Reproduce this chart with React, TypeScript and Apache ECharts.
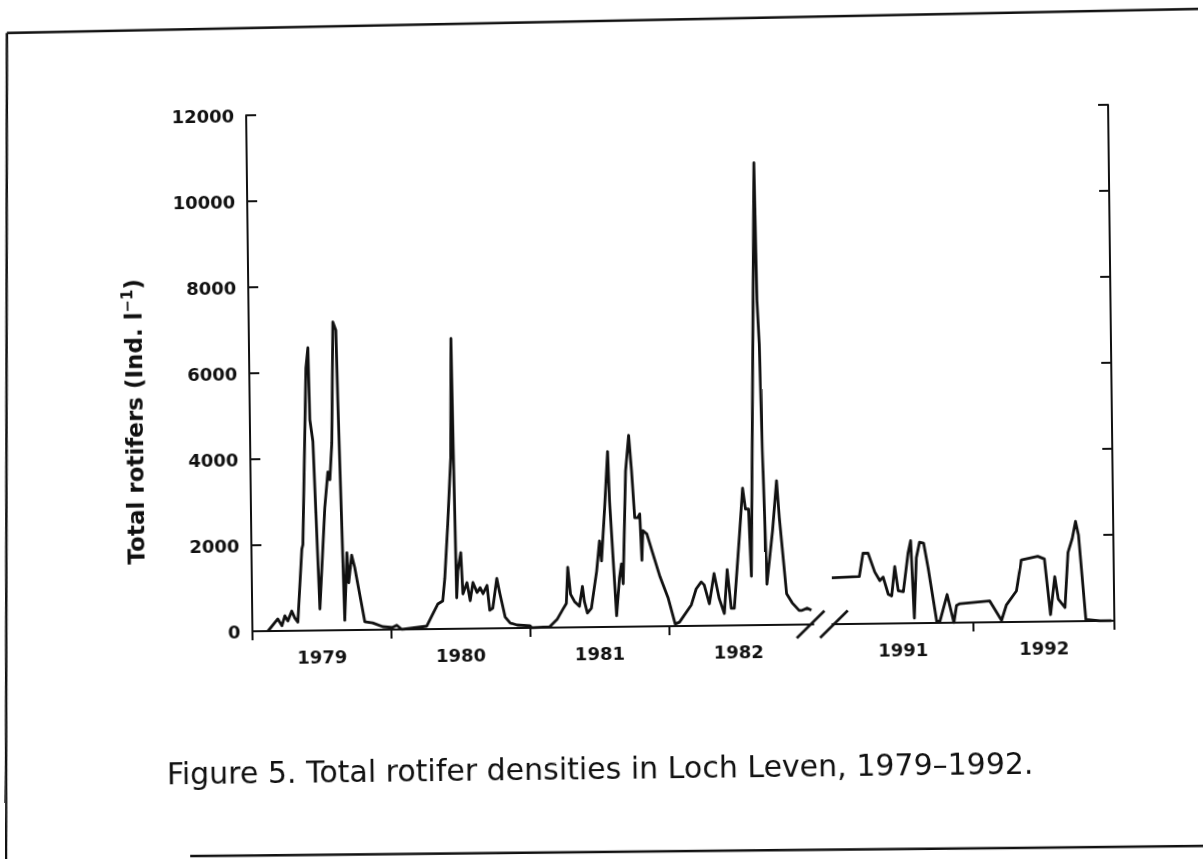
import React, { useEffect, useRef } from 'react';
import * as echarts from 'echarts';

// ---- data (year fraction, total rotifers Ind. l^-1) ----
const d1979: [number, number][] = [
  [1979.112, 0], [1979.184, 280], [1979.213, 120], [1979.235, 350], [1979.256, 230],
  [1979.285, 460], [1979.306, 300], [1979.328, 200], [1979.363, 1900], [1979.371, 2000],
  [1979.408, 6100], [1979.424, 6580], [1979.432, 4900], [1979.452, 4400], [1979.488, 500],
  [1979.532, 2860], [1979.557, 3680], [1979.571, 3500], [1979.588, 4350], [1979.606, 7170],
  [1979.627, 6980], [1979.635, 5350], [1979.666, 230], [1979.687, 1800], [1979.698, 1100],
  [1979.721, 1740], [1979.742, 1460], [1979.810, 190], [1979.867, 160], [1979.939, 70],
  [1980.010, 50],
];
const d1980: [number, number][] = [
  [1980.040, 100], [1980.076, 0], [1980.256, 70], [1980.292, 300], [1980.337, 580],
  [1980.373, 650], [1980.390, 1180], [1980.416, 2450], [1980.443, 3980], [1980.455, 6750],
  [1980.462, 4210], [1980.474, 720], [1980.484, 1350], [1980.507, 1770], [1980.519, 810],
  [1980.549, 1070], [1980.571, 650], [1980.592, 1070], [1980.621, 840], [1980.643, 950],
  [1980.664, 810], [1980.693, 1000], [1980.711, 420], [1980.733, 470], [1980.764, 1160],
  [1980.785, 810], [1980.821, 260], [1980.857, 120], [1980.907, 70], [1981.000, 50],
];
const d1981: [number, number][] = [
  [1981.011, 0], [1981.140, 20], [1981.197, 200], [1981.235, 410], [1981.263, 560],
  [1981.276, 1400], [1981.294, 770], [1981.322, 600], [1981.357, 490], [1981.380, 950],
  [1981.393, 600], [1981.414, 330], [1981.443, 440], [1981.484, 1300], [1981.507, 2000],
  [1981.520, 1540], [1981.547, 2770], [1981.573, 4080], [1981.583, 2930], [1981.624, 260],
  [1981.648, 1140], [1981.663, 1460], [1981.674, 1000], [1981.701, 3620], [1981.726, 4450],
  [1981.744, 3620], [1981.763, 2530], [1981.785, 2530], [1981.799, 2620], [1981.811, 1540],
  [1981.820, 2230], [1981.849, 2150], [1981.884, 1760], [1981.940, 1150], [1981.997, 650],
  [1982.045, 50],
];
const d1982: [number, number][] = [
  [1982.076, 90], [1982.163, 490], [1982.199, 860], [1982.236, 1020], [1982.257, 950],
  [1982.293, 510], [1982.329, 1210], [1982.364, 630], [1982.400, 280], [1982.424, 1300],
  [1982.450, 400], [1982.472, 400], [1982.516, 2120], [1982.542, 3190], [1982.561, 2700],
  [1982.583, 2700], [1982.598, 1140], [1982.652, 10750], [1982.662, 7540], [1982.675, 6540],
  [1982.688, 4050], [1982.709, 950], [1982.754, 2190], [1982.787, 3350], [1982.804, 2490],
  [1982.850, 720], [1982.889, 510], [1982.939, 330], [1982.960, 330], [1982.998, 380],
  [1983.027, 330],
];
const d1991: [number, number][] = [
  [1991.000, 1080], [1991.195, 1100], [1991.223, 1640], [1991.259, 1640], [1991.305, 1200],
  [1991.340, 1000], [1991.364, 1080], [1991.399, 680], [1991.423, 640], [1991.447, 1320],
  [1991.470, 760], [1991.506, 736], [1991.543, 1640], [1991.562, 1920], [1991.582, 120],
  [1991.601, 1520], [1991.625, 1880], [1991.654, 1856], [1991.684, 1280], [1991.740, 40],
  [1991.763, 40], [1991.816, 656], [1991.862, 0], [1991.882, 400], [1991.906, 440],
];
const d1992: [number, number][] = [
  [1992.118, 496], [1992.200, 40], [1992.236, 400], [1992.308, 720], [1992.345, 1440],
  [1992.462, 1520], [1992.509, 1456], [1992.548, 160], [1992.581, 1040], [1992.604, 520],
  [1992.651, 320], [1992.677, 1600], [1992.708, 1920], [1992.733, 2320], [1992.753, 2000],
  [1992.798, 40], [1992.898, 0], [1992.980, 0],
];

// ---- axes ----
const leftYears = [1979, 1980, 1981, 1982];
const rightYears = [1991, 1992];
const leftTicks = [1979, 1980, 1981, 1982];
const rightTicks = [1992, 1993];
const leftRange = [1979, 1983.04];
const rightRange = [1991, 1993];
const yRange = [0, 12000];
const yStep = 2000;
const breakMarks = [1983.02, 1991.011];

const INK = '#111';
const FONT = 'DejaVu Sans';

function slash(params: any, api: any) {
  const p = api.coord([api.value(0), api.value(1)]);
  return {
    type: 'line',
    shape: { x1: p[0] - 14, y1: p[1] + 13.5, x2: p[0] + 14, y2: p[1] - 13.5 },
    style: { stroke: INK, lineWidth: 2.6 },
  };
}

function xAxisCfg(gridIndex: number, range: number[], ticks: number[], years: number[]) {
  return {
    type: 'value',
    gridIndex,
    min: range[0],
    max: range[1],
    axisLine: { show: true, onZero: false, lineStyle: { color: INK, width: 2 } },
    axisTick: { show: true, inside: false, length: 9, customValues: ticks, lineStyle: { color: INK, width: 2 } },
    axisLabel: {
      show: true,
      customValues: years.map((y) => y + 0.5),
      formatter: (v: number) => String(Math.floor(v)),
      margin: 17,
      color: INK,
      fontFamily: FONT,
      fontWeight: 'bold',
      fontSize: 18,
    },
    splitLine: { show: false },
  };
}

function yAxisCfg(gridIndex: number, position: string, showLabel: boolean) {
  return {
    type: 'value',
    gridIndex,
    position,
    min: yRange[0],
    max: yRange[1],
    interval: yStep,
    axisLine: { show: true, lineStyle: { color: INK, width: 2 } },
    axisTick: { show: true, inside: true, length: 10, lineStyle: { color: INK, width: 2 } },
    axisLabel: {
      show: showLabel,
      formatter: (v: number) => String(v),
      margin: 12,
      color: INK,
      fontFamily: FONT,
      fontWeight: 'bold',
      fontSize: 18,
    },
    splitLine: { show: false },
  };
}

export default function App() {
  const ref = useRef<HTMLDivElement>(null);
  useEffect(() => {
    if (!ref.current) return;
    const chart = echarts.init(ref.current, null, { renderer: 'svg' });
    chart.setOption({
      animation: false,
      backgroundColor: '#fff',
      grid: [
        { left: 250, top: 111, width: 561, height: 516 },
        { left: 830, top: 111, width: 282, height: 516 },
      ],
      xAxis: [xAxisCfg(0, leftRange, leftTicks, leftYears), xAxisCfg(1, rightRange, rightTicks, rightYears)],
      yAxis: [yAxisCfg(0, 'left', true), yAxisCfg(1, 'right', false)],
      series: [
        {
          type: 'line', xAxisIndex: 0, yAxisIndex: 0, silent: true,
          data: [...d1979, ...d1980, ...d1981, ...d1982],
          showSymbol: false, symbol: 'none',
          lineStyle: { color: INK, width: 2.8, join: 'round' },
        },
        {
          type: 'line', xAxisIndex: 1, yAxisIndex: 1, silent: true,
          data: [...d1991, ...d1992],
          showSymbol: false, symbol: 'none',
          lineStyle: { color: INK, width: 2.8, join: 'round' },
        },
        { type: 'custom', xAxisIndex: 0, yAxisIndex: 0, silent: true, clip: false, data: [[breakMarks[0], 0]], renderItem: slash },
        { type: 'custom', xAxisIndex: 1, yAxisIndex: 1, silent: true, clip: false, data: [[breakMarks[1], 0]], renderItem: slash },
      ],
      graphic: [
        // frame
        { type: 'line', silent: true, shape: { x1: 11.8, y1: 25.7, x2: 1208, y2: 16.3 }, style: { stroke: INK, lineWidth: 2.5 } },
        { type: 'line', silent: true, shape: { x1: 11.8, y1: 25.7, x2: 0.8, y2: 852 }, style: { stroke: INK, lineWidth: 2.5 } },
        { type: 'line', silent: true, shape: { x1: 185, y1: 851, x2: 1198, y2: 853.3 }, style: { stroke: INK, lineWidth: 2.5 } },
        // y axis title
        {
          type: 'text', silent: true, x: 135, y: 416, rotation: Math.PI / 2,
          style: {
            text: '{a|Total rotifers (Ind. l}{s|−1}{a|)}',
            align: 'center', verticalAlign: 'middle',
            rich: {
              a: { fontSize: 23, fontFamily: FONT, fontWeight: 'bold', fill: INK, lineHeight: 28 },
              s: { fontSize: 15, fontFamily: FONT, fontWeight: 'bold', fill: INK, lineHeight: 15, verticalAlign: 'top' },
            },
          },
        },
        // caption
        {
          type: 'text', silent: true, x: 596, y: 768,
          style: {
            text: 'Figure 5. Total rotifer densities in Loch Leven, 1979–1992.',
            align: 'center', verticalAlign: 'middle',
            fontSize: 30, fontFamily: FONT, fill: INK,
          },
        },
      ],
    });
    return () => chart.dispose();
  }, []);
  return (
    <div
      style={{
        position: 'fixed', left: 0, top: 0, width: 1203, height: 859,
        background: '#fff', transform: 'rotate(-0.7deg)', transformOrigin: '50% 50%',
      }}
    >
      <div ref={ref} style={{ width: 1203, height: 859 }} />
    </div>
  );
}
